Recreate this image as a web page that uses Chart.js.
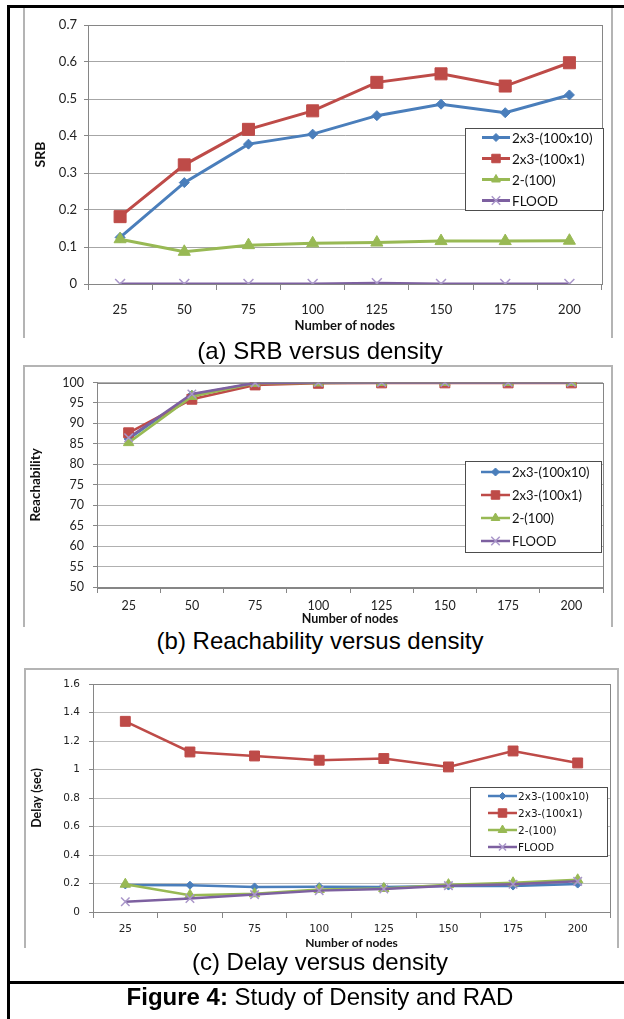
<!DOCTYPE html>
<html>
<head>
<meta charset="utf-8">
<script src="https://cdn.jsdelivr.net/npm/chart.js@4.4.0/dist/chart.umd.min.js"></script>
<style>
  body { margin: 0; background: #fff; }
  #page { position: relative; width: 624px; height: 1019px; overflow: hidden; }
  .bk { position: absolute; background: #000; }
  .box { position: absolute; border: 2px solid #b4b4b4; border-bottom: none; box-sizing: border-box; }
  canvas { position: absolute; }
  .cap { position: absolute; left: 0; width: 640px; text-align: center; font-family: "Liberation Sans", Arial, sans-serif;
         font-size: 24px; line-height: 28px; color: #000; }
</style>
</head>
<body>
<div id="page">
  <div class="box" style="left:23px;top:6px;width:590px;height:332px"></div>
  <div class="box" style="left:23px;top:365px;width:590px;height:262px"></div>
  <div class="box" style="left:24px;top:668px;width:595px;height:280px"></div>

  <canvas id="srbChart" width="587" height="330" style="left:24px;top:8px"></canvas>
  <canvas id="reachChart" width="588" height="261" style="left:23px;top:366px"></canvas>
  <canvas id="delayChart" width="594" height="284" style="left:24px;top:668px"></canvas>

  <div class="cap" style="top:337px">(a) SRB versus density</div>
  <div class="cap" style="top:627px">(b) Reachability versus density</div>
  <div class="cap" style="top:948px">(c) Delay versus density</div>
  <div class="cap" style="top:983px"><b>Figure 4:</b> Study of Density and RAD</div>

  <div class="bk" style="left:7px;top:5px;width:617px;height:3px"></div>
  <div class="bk" style="left:7px;top:5px;width:3px;height:1014px"></div>
  <div class="bk" style="left:7px;top:981px;width:617px;height:3px"></div>
</div>

<script>
// categories and series names
const nodes = ['25', '50', '75', '100', '125', '150', '175', '200'];
const seriesNames = ['2x3-(100x10)', '2x3-(100x1)', '2-(100)', 'FLOOD'];

// (a) SRB
const srbGrid10 = [0.126, 0.274, 0.378, 0.405, 0.455, 0.486, 0.463, 0.511];
const srbGrid1  = [0.182, 0.322, 0.418, 0.468, 0.545, 0.568, 0.535, 0.598];
const srbTwo    = [0.121, 0.087, 0.105, 0.110, 0.112, 0.116, 0.116, 0.117];
const srbFlood  = [0, 0, 0, 0, 0.002, 0, 0, 0];
const srbTicks  = [0, 0.1, 0.2, 0.3, 0.4, 0.5, 0.6, 0.7];

// (b) Reachability
const reachGrid10 = [86.2, 97.0, 99.8, 100, 100, 100, 100, 100];
const reachGrid1  = [87.7, 95.9, 99.4, 99.8, 99.9, 99.9, 99.9, 99.9];
const reachTwo    = [85.3, 96.6, 99.8, 99.9, 100, 100, 100, 100];
const reachFlood  = [86.5, 97.2, 99.9, 100, 100, 100, 100, 100];
const reachTicks  = [50, 55, 60, 65, 70, 75, 80, 85, 90, 95, 100];

// (c) Delay
const delayGrid10 = [0.190, 0.188, 0.176, 0.178, 0.176, 0.182, 0.182, 0.196];
const delayGrid1  = [1.338, 1.123, 1.095, 1.065, 1.077, 1.018, 1.130, 1.046];
const delayTwo    = [0.195, 0.118, 0.128, 0.158, 0.165, 0.192, 0.205, 0.226];
const delayFlood  = [0.072, 0.095, 0.122, 0.150, 0.162, 0.185, 0.195, 0.215];
const delayTicks  = [0, 0.2, 0.4, 0.6, 0.8, 1, 1.2, 1.4, 1.6];

const lineColors   = ['#4a7ebb', '#be4b48', '#98b954', '#7d60a0'];
const markerColors = ['#4a7ebb', '#be4b48', '#98b954', '#a996c9'];
const pointStyles  = ['rectRot', 'rect', 'triangle', 'crossRot'];
const axisColor = '#868686';

// grey frame around the plot area
const plotFrame = {
  id: 'plotFrame',
  beforeDatasetsDraw(chart, args, opts) {
    const a = chart.chartArea, ctx = chart.ctx;
    ctx.save();
    ctx.strokeStyle = opts.color;
    ctx.lineWidth = 1;
    ctx.strokeRect(Math.round(a.left) + 0.5, Math.round(a.top) + 0.5, Math.round(a.width), Math.round(a.height));
    ctx.restore();
  }
};

// excel-like boxed legend sitting inside the plot
const boxLegend = {
  id: 'boxLegend',
  afterDraw(chart, args, o) {
    const ctx = chart.ctx;
    ctx.save();
    ctx.fillStyle = '#fff';
    ctx.fillRect(o.x, o.y, o.w, o.h);
    ctx.strokeStyle = '#4d4d4d';
    ctx.lineWidth = 1;
    ctx.strokeRect(o.x + 0.5, o.y + 0.5, o.w, o.h);
    ctx.font = o.font;
    ctx.textBaseline = 'middle';
    ctx.textAlign = 'left';
    chart.data.datasets.forEach((ds, i) => {
      const y = o.y + o.first + i * o.step;
      ctx.strokeStyle = ds.borderColor;
      ctx.lineWidth = ds.borderWidth;
      ctx.beginPath();
      ctx.moveTo(o.x + o.line0, y);
      ctx.lineTo(o.x + o.line1, y);
      ctx.stroke();
      ctx.fillStyle = ds.pointBackgroundColor;
      ctx.strokeStyle = ds.pointBorderColor;
      ctx.lineWidth = ds.pointBorderWidth;
      Chart.helpers.drawPoint(ctx, {pointStyle: ds.pointStyle, radius: o.radii[i], borderWidth: ds.pointBorderWidth, rotation: 0},
        o.x + (o.line0 + o.line1) / 2, y);
      ctx.fillStyle = '#111';
      ctx.fillText(ds.label, o.x + o.text, y + 1);
    });
    ctx.restore();
  }
};

function makeChart(id, series, ticks, o) {
  return new Chart(document.getElementById(id), {
    type: 'line',
    data: {
      labels: nodes,
      datasets: series.map((vals, i) => ({
        label: seriesNames[i],
        data: vals,
        order: 3 - i,
        borderColor: lineColors[i],
        backgroundColor: markerColors[i],
        pointBackgroundColor: markerColors[i],
        pointBorderColor: markerColors[i],
        pointStyle: pointStyles[i],
        pointRadius: o.radii[i],
        pointBorderWidth: i === 3 ? 1.5 : 1,
        borderWidth: o.lineWidth,
        tension: 0
      }))
    },
    options: {
      responsive: false,
      animation: false,
      layout: { padding: { top: o.padTop, right: o.padRight, left: 0, bottom: 0 } },
      plugins: {
        legend: { display: false },
        tooltip: { enabled: false },
        plotFrame: { color: axisColor },
        boxLegend: o.legend
      },
      scales: {
        x: {
          offset: true,
          grid: { offset: true, drawOnChartArea: false, tickLength: 6, color: axisColor },
          border: { color: axisColor },
          ticks: { font: o.tickFont, color: '#222', padding: o.xPad, maxRotation: 0, autoSkip: false },
          title: { display: true, text: 'Number of nodes', font: o.xTitleFont, color: '#111',
                   padding: { top: 0, bottom: o.xTitlePad } },
          afterFit: s => { s.height = o.xHeight; }
        },
        y: {
          min: ticks[0],
          max: ticks[ticks.length - 1],
          afterBuildTicks: s => { s.ticks = ticks.map(v => ({ value: v })); },
          grid: { color: o.gridColor, tickColor: axisColor, tickLength: 4 },
          border: { color: axisColor },
          ticks: { font: o.tickFont, color: '#222', padding: o.yPad,
                   callback: v => String(Math.round(v * 10) / 10) },
          title: { display: true, text: o.yTitle, font: o.yTitleFont, color: '#111',
                   padding: { top: o.yTitlePad, bottom: 0 } },
          afterFit: s => { s.width = o.yWidth; }
        }
      }
    },
    plugins: [plotFrame, boxLegend]
  });
}

makeChart('srbChart', [srbGrid10, srbGrid1, srbTwo, srbFlood], srbTicks, {
  radii: [5, 8.5, 7, 7], lineWidth: 3,
  padTop: 17, padRight: 6, yWidth: 64, xHeight: 54,
  tickFont: { family: 'Lato', size: 13 }, xPad: 12, yPad: 7,
  xTitleFont: { family: 'Lato', size: 13, weight: 'bold' }, xTitlePad: 4,
  yTitle: 'SRB', yTitleFont: { family: 'Lato', size: 14, weight: 'bold' }, yTitlePad: 8,
  gridColor: '#a6a6a6',
  legend: { x: 441, y: 120, w: 138, h: 82, first: 9.5, step: 21, line0: 17, line1: 45, text: 47,
            font: '13.5px Lato', radii: [4, 6, 5, 6] }
});

makeChart('reachChart', [reachGrid10, reachGrid1, reachTwo, reachFlood], reachTicks, {
  radii: [4.5, 7, 6, 6], lineWidth: 2.5,
  padTop: 14, padRight: 7, yWidth: 74, xHeight: 40,
  tickFont: { family: 'Lato', size: 12.5 }, xPad: 5, yPad: 9,
  xTitleFont: { family: 'Lato', size: 12.5, weight: 'bold' }, xTitlePad: 1,
  yTitle: 'Reachability', yTitleFont: { family: 'Lato', size: 13.5, weight: 'bold' }, yTitlePad: 5,
  gridColor: '#b0b0b0',
  legend: { x: 442, y: 95, w: 136, h: 91, first: 11, step: 23, line0: 16, line1: 45, text: 47,
            font: '13px Lato', radii: [4, 6, 5, 6] }
});

makeChart('delayChart', [delayGrid10, delayGrid1, delayTwo, delayFlood], delayTicks, {
  radii: [4, 7, 6, 6], lineWidth: 2.5,
  padTop: 16, padRight: 7, yWidth: 69, xHeight: 40,
  tickFont: { family: 'DejaVu Sans', size: 10.5 }, xPad: 5, yPad: 9,
  xTitleFont: { family: 'Lato', size: 12, weight: 'bold' }, xTitlePad: 2,
  yTitle: 'Delay (sec)', yTitleFont: { family: 'Lato', size: 12.5, weight: 'bold' }, yTitlePad: 5,
  gridColor: '#bdbdbd',
  legend: { x: 446, y: 119, w: 137, h: 69, first: 9, step: 17, line0: 18, line1: 47, text: 48,
            font: '10.5px "DejaVu Sans"', radii: [3.5, 6, 5, 5] }
});
</script>
</body>
</html>
